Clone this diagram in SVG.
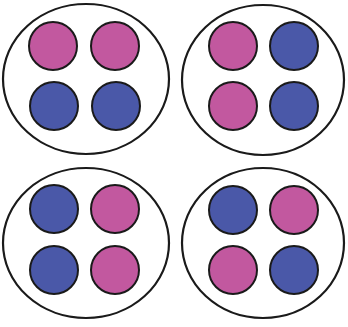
<svg xmlns="http://www.w3.org/2000/svg" width="348" height="327" viewBox="0 0 348 327">
<style>
.outer{fill:#fff;stroke:#1a1a1a;stroke-width:2.2}
.p{fill:#c2589f;stroke:#1a1a1a;stroke-width:2}
.b{fill:#4a58a8;stroke:#1a1a1a;stroke-width:2}
</style>
<rect width="348" height="327" fill="#fff"/>
<g id="group1">
<ellipse class="outer" cx="86" cy="79" rx="83" ry="75"/>
<circle class="p" cx="53" cy="46" r="24"/>
<circle class="p" cx="115" cy="46" r="24"/>
<circle class="b" cx="54" cy="106" r="24"/>
<circle class="b" cx="116" cy="106" r="24"/>
</g>
<g id="group2">
<ellipse class="outer" cx="263" cy="80" rx="81" ry="75"/>
<circle class="p" cx="233" cy="46" r="24"/>
<circle class="b" cx="294" cy="46" r="24"/>
<circle class="p" cx="233" cy="106" r="24"/>
<circle class="b" cx="294" cy="106" r="24"/>
</g>
<g id="group3">
<ellipse class="outer" cx="86" cy="243" rx="83" ry="75"/>
<circle class="b" cx="54" cy="209" r="24"/>
<circle class="p" cx="115" cy="209" r="24"/>
<circle class="b" cx="54" cy="270" r="24"/>
<circle class="p" cx="115" cy="270" r="24"/>
</g>
<g id="group4">
<ellipse class="outer" cx="263" cy="243" rx="81" ry="75"/>
<circle class="b" cx="233" cy="210" r="24"/>
<circle class="p" cx="294" cy="210" r="24"/>
<circle class="p" cx="233" cy="270" r="24"/>
<circle class="b" cx="294" cy="270" r="24"/>
</g>
<g id="connectors"/>
</svg>
